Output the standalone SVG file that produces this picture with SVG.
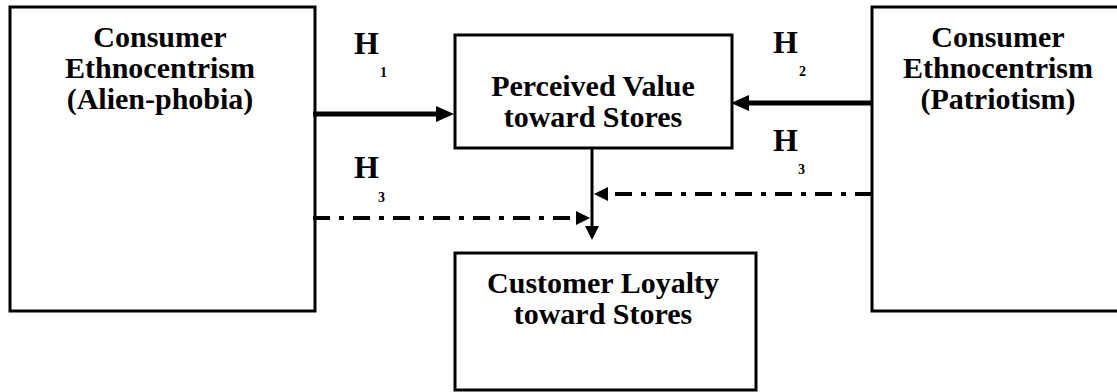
<svg xmlns="http://www.w3.org/2000/svg" width="1117" height="392" viewBox="0 0 1117 392">
<style>
.box{fill:#fff;stroke:#000;stroke-width:3}
.t{font-family:"Liberation Serif","Times New Roman",serif;font-weight:bold;font-size:30px;fill:#000;text-anchor:middle}
.h{font-family:"Liberation Serif","Times New Roman",serif;font-weight:bold;font-size:32px;fill:#000}
.s{font-family:"Liberation Serif","Times New Roman",serif;font-weight:bold;font-size:14px;fill:#000}
.solid{stroke:#000;fill:none}
.dd{stroke:#000;fill:none;stroke-width:4;stroke-dasharray:17 9 5 9}
</style>
<defs>
<marker id="ahBig" markerUnits="userSpaceOnUse" markerWidth="20" markerHeight="18" refX="0" refY="8" orient="auto">
<path d="M0,0 L18,8 L0,16 z" fill="#000"/>
</marker>
<marker id="ahSmall" markerUnits="userSpaceOnUse" markerWidth="16" markerHeight="16" refX="0" refY="7" orient="auto">
<path d="M0,0 L14,7 L0,14 z" fill="#000"/>
</marker>
</defs>
<g id="node-alienphobia">
<rect class="box" x="10" y="7" width="305" height="304"/>
<text class="t" x="160" y="47">Consumer</text>
<text class="t" x="160" y="78">Ethnocentrism</text>
<text class="t" x="160" y="109">(Alien-phobia)</text>
</g>
<g id="node-perceived">
<rect class="box" x="455" y="35" width="277" height="113"/>
<text class="t" x="593" y="96">Perceived Value</text>
<text class="t" x="593" y="127">toward Stores</text>
</g>
<g id="node-patriotism">
<rect class="box" x="872" y="7" width="260" height="304"/>
<text class="t" x="998" y="47">Consumer</text>
<text class="t" x="998" y="78">Ethnocentrism</text>
<text class="t" x="998" y="109">(Patriotism)</text>
</g>
<g id="node-loyalty">
<rect class="box" x="455" y="253" width="301" height="137"/>
<text class="t" x="603" y="293">Customer Loyalty</text>
<text class="t" x="603" y="324">toward Stores</text>
</g>
<g id="labels">
<text class="h" x="354" y="54">H</text><text class="s" x="380" y="77">1</text>
<text class="h" x="773" y="53">H</text><text class="s" x="799" y="76">2</text>
<text class="h" x="773" y="151">H</text><text class="s" x="798" y="174">3</text>
<text class="h" x="354" y="178">H</text><text class="s" x="378" y="202">3</text>
</g>
<g id="connectors">
<line class="solid" x1="313" y1="114" x2="436" y2="114" stroke-width="5" marker-end="url(#ahBig)"/>
<line class="solid" x1="872" y1="103" x2="749" y2="103" stroke-width="5" marker-end="url(#ahBig)"/>
<line class="solid" x1="592" y1="148" x2="592" y2="226" stroke-width="3" marker-end="url(#ahSmall)"/>
<line class="dd" x1="872" y1="194" x2="608" y2="194" marker-end="url(#ahSmall)"/>
<line class="dd" x1="313" y1="218" x2="576" y2="218" marker-end="url(#ahSmall)"/>
</g>
</svg>
